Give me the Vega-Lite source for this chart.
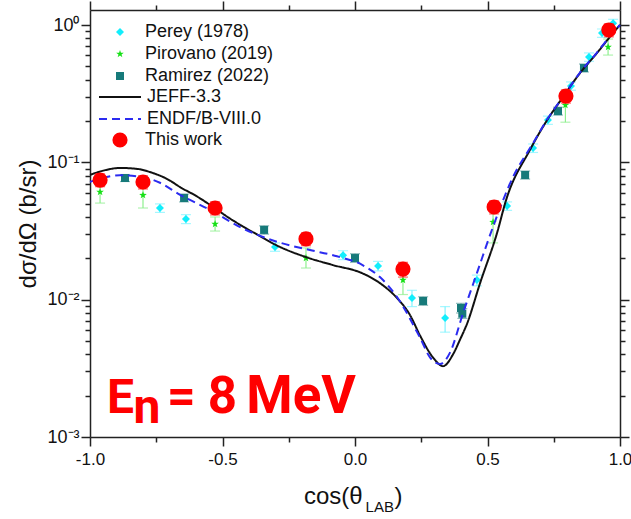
{
  "$schema": "https://vega.github.io/schema/vega-lite/v6.json",
  "width": 530,
  "height": 427,
  "autosize": "none",
  "padding": {"left": 90, "top": 10, "right": 11, "bottom": 82},
  "background": "white",
  "datasets": {
    "exp": [
      {"series": "Perey (1978)", "x": -0.736, "y": 0.0465, "lo": 0.0432, "hi": 0.0498},
      {"series": "Perey (1978)", "x": -0.638, "y": 0.0387, "lo": 0.0358, "hi": 0.0416},
      {"series": "Perey (1978)", "x": -0.302, "y": 0.0242, "lo": 0.0225, "hi": 0.0259},
      {"series": "Perey (1978)", "x": -0.045, "y": 0.0211, "lo": 0.0196, "hi": 0.0227},
      {"series": "Perey (1978)", "x": 0.087, "y": 0.0176, "lo": 0.0162, "hi": 0.019},
      {"series": "Perey (1978)", "x": 0.215, "y": 0.0103, "lo": 0.0089, "hi": 0.0117},
      {"series": "Perey (1978)", "x": 0.34, "y": 0.00735, "lo": 0.0058, "hi": 0.0089},
      {"series": "Perey (1978)", "x": 0.46, "y": 0.0139, "lo": 0.0126, "hi": 0.0151},
      {"series": "Perey (1978)", "x": 0.574, "y": 0.0481, "lo": 0.0447, "hi": 0.0515},
      {"series": "Perey (1978)", "x": 0.672, "y": 0.127, "lo": 0.118, "hi": 0.136},
      {"series": "Perey (1978)", "x": 0.728, "y": 0.203, "lo": 0.189, "hi": 0.217},
      {"series": "Perey (1978)", "x": 0.815, "y": 0.36, "lo": 0.335, "hi": 0.385},
      {"series": "Perey (1978)", "x": 0.883, "y": 0.585, "lo": 0.544, "hi": 0.626},
      {"series": "Perey (1978)", "x": 0.932, "y": 0.874, "lo": 0.813, "hi": 0.935},
      {"series": "Perey (1978)", "x": 0.974, "y": 1.03, "lo": 0.958, "hi": 1.1},
      {"series": "Pirovano (2019)", "x": -0.962, "y": 0.0608, "lo": 0.0505, "hi": 0.07},
      {"series": "Pirovano (2019)", "x": -0.8, "y": 0.0577, "lo": 0.0465, "hi": 0.068},
      {"series": "Pirovano (2019)", "x": -0.528, "y": 0.0355, "lo": 0.0316, "hi": 0.04},
      {"series": "Pirovano (2019)", "x": -0.185, "y": 0.0201, "lo": 0.017, "hi": 0.0238},
      {"series": "Pirovano (2019)", "x": 0.181, "y": 0.0139, "lo": 0.0109, "hi": 0.0166},
      {"series": "Pirovano (2019)", "x": 0.521, "y": 0.0367, "lo": 0.0259, "hi": 0.045},
      {"series": "Pirovano (2019)", "x": 0.794, "y": 0.261, "lo": 0.196, "hi": 0.32},
      {"series": "Pirovano (2019)", "x": 0.955, "y": 0.691, "lo": 0.604, "hi": 0.79},
      {"series": "Ramirez (2022)", "x": -0.868, "y": 0.0769, "lo": 0.0725, "hi": 0.0815},
      {"series": "Ramirez (2022)", "x": -0.645, "y": 0.055, "lo": 0.0515, "hi": 0.0588},
      {"series": "Ramirez (2022)", "x": -0.343, "y": 0.0322, "lo": 0.03, "hi": 0.0345},
      {"series": "Ramirez (2022)", "x": 0.0, "y": 0.0201, "lo": 0.0187, "hi": 0.0216},
      {"series": "Ramirez (2022)", "x": 0.257, "y": 0.00978, "lo": 0.0091, "hi": 0.0105},
      {"series": "Ramirez (2022)", "x": 0.4, "y": 0.0087, "lo": 0.008, "hi": 0.0094},
      {"series": "Ramirez (2022)", "x": 0.405, "y": 0.0079, "lo": 0.0073, "hi": 0.0086},
      {"series": "Ramirez (2022)", "x": 0.642, "y": 0.0809, "lo": 0.0755, "hi": 0.0865},
      {"series": "Ramirez (2022)", "x": 0.766, "y": 0.236, "lo": 0.221, "hi": 0.252},
      {"series": "Ramirez (2022)", "x": 0.864, "y": 0.486, "lo": 0.455, "hi": 0.52}
    ],
    "models": [
      {"model": "JEFF-3.3", "x": -1.0, "y": 0.081},
      {"model": "JEFF-3.3", "x": -0.95, "y": 0.087},
      {"model": "JEFF-3.3", "x": -0.887, "y": 0.091},
      {"model": "JEFF-3.3", "x": -0.82, "y": 0.0895},
      {"model": "JEFF-3.3", "x": -0.774, "y": 0.085},
      {"model": "JEFF-3.3", "x": -0.7, "y": 0.074},
      {"model": "JEFF-3.3", "x": -0.66, "y": 0.066},
      {"model": "JEFF-3.3", "x": -0.6, "y": 0.057},
      {"model": "JEFF-3.3", "x": -0.547, "y": 0.049},
      {"model": "JEFF-3.3", "x": -0.472, "y": 0.039},
      {"model": "JEFF-3.3", "x": -0.385, "y": 0.031},
      {"model": "JEFF-3.3", "x": -0.283, "y": 0.0242},
      {"model": "JEFF-3.3", "x": -0.181, "y": 0.0203},
      {"model": "JEFF-3.3", "x": -0.085, "y": 0.0179},
      {"model": "JEFF-3.3", "x": 0.03, "y": 0.0155},
      {"model": "JEFF-3.3", "x": 0.094, "y": 0.0132},
      {"model": "JEFF-3.3", "x": 0.158, "y": 0.0103},
      {"model": "JEFF-3.3", "x": 0.208, "y": 0.0077},
      {"model": "JEFF-3.3", "x": 0.245, "y": 0.0055},
      {"model": "JEFF-3.3", "x": 0.294, "y": 0.0038},
      {"model": "JEFF-3.3", "x": 0.332, "y": 0.00328},
      {"model": "JEFF-3.3", "x": 0.37, "y": 0.004},
      {"model": "JEFF-3.3", "x": 0.396, "y": 0.0051},
      {"model": "JEFF-3.3", "x": 0.423, "y": 0.0067},
      {"model": "JEFF-3.3", "x": 0.472, "y": 0.0132},
      {"model": "JEFF-3.3", "x": 0.536, "y": 0.0306},
      {"model": "JEFF-3.3", "x": 0.57, "y": 0.053},
      {"model": "JEFF-3.3", "x": 0.66, "y": 0.123},
      {"model": "JEFF-3.3", "x": 0.725, "y": 0.203},
      {"model": "JEFF-3.3", "x": 0.785, "y": 0.299},
      {"model": "JEFF-3.3", "x": 0.849, "y": 0.447},
      {"model": "JEFF-3.3", "x": 0.913, "y": 0.625},
      {"model": "JEFF-3.3", "x": 0.974, "y": 0.875},
      {"model": "JEFF-3.3", "x": 1.0, "y": 1.0},
      {"model": "ENDF/B-VIII.0", "x": -1.0, "y": 0.072},
      {"model": "ENDF/B-VIII.0", "x": -0.962, "y": 0.076},
      {"model": "ENDF/B-VIII.0", "x": -0.887, "y": 0.0805},
      {"model": "ENDF/B-VIII.0", "x": -0.8, "y": 0.078},
      {"model": "ENDF/B-VIII.0", "x": -0.736, "y": 0.071},
      {"model": "ENDF/B-VIII.0", "x": -0.66, "y": 0.058},
      {"model": "ENDF/B-VIII.0", "x": -0.547, "y": 0.045},
      {"model": "ENDF/B-VIII.0", "x": -0.423, "y": 0.033},
      {"model": "ENDF/B-VIII.0", "x": -0.283, "y": 0.026},
      {"model": "ENDF/B-VIII.0", "x": -0.17, "y": 0.023},
      {"model": "ENDF/B-VIII.0", "x": -0.068, "y": 0.0207},
      {"model": "ENDF/B-VIII.0", "x": 0.03, "y": 0.0178},
      {"model": "ENDF/B-VIII.0", "x": 0.094, "y": 0.0146},
      {"model": "ENDF/B-VIII.0", "x": 0.158, "y": 0.0105},
      {"model": "ENDF/B-VIII.0", "x": 0.245, "y": 0.0053},
      {"model": "ENDF/B-VIII.0", "x": 0.283, "y": 0.0038},
      {"model": "ENDF/B-VIII.0", "x": 0.321, "y": 0.0034},
      {"model": "ENDF/B-VIII.0", "x": 0.358, "y": 0.0041},
      {"model": "ENDF/B-VIII.0", "x": 0.408, "y": 0.008},
      {"model": "ENDF/B-VIII.0", "x": 0.46, "y": 0.0156},
      {"model": "ENDF/B-VIII.0", "x": 0.521, "y": 0.034},
      {"model": "ENDF/B-VIII.0", "x": 0.596, "y": 0.078},
      {"model": "ENDF/B-VIII.0", "x": 0.672, "y": 0.138},
      {"model": "ENDF/B-VIII.0", "x": 0.725, "y": 0.205},
      {"model": "ENDF/B-VIII.0", "x": 0.785, "y": 0.3},
      {"model": "ENDF/B-VIII.0", "x": 0.849, "y": 0.45},
      {"model": "ENDF/B-VIII.0", "x": 0.913, "y": 0.63},
      {"model": "ENDF/B-VIII.0", "x": 0.974, "y": 0.88},
      {"model": "ENDF/B-VIII.0", "x": 1.0, "y": 1.0}
    ],
    "thiswork": [
      {"series": "This work", "x": -0.962, "y": 0.0743, "lo": 0.0665, "hi": 0.0825},
      {"series": "This work", "x": -0.8, "y": 0.0719, "lo": 0.064, "hi": 0.0798},
      {"series": "This work", "x": -0.528, "y": 0.0465, "lo": 0.0414, "hi": 0.0516},
      {"series": "This work", "x": -0.185, "y": 0.0277, "lo": 0.0247, "hi": 0.0307},
      {"series": "This work", "x": 0.181, "y": 0.0167, "lo": 0.0146, "hi": 0.0187},
      {"series": "This work", "x": 0.525, "y": 0.0473, "lo": 0.0421, "hi": 0.0525},
      {"series": "This work", "x": 0.796, "y": 0.304, "lo": 0.27, "hi": 0.337},
      {"series": "This work", "x": 0.958, "y": 0.92, "lo": 0.82, "hi": 1.02}
    ]
  },
  "layer": [
    {
      "data": {"name": "exp"},
      "mark": {"type": "errorbar", "ticks": {"size": 10}, "thickness": 1.2},
      "encoding": {
        "x": {
          "field": "x", "type": "quantitative",
          "scale": {"domain": [-1, 1], "nice": false, "zero": false},
          "axis": {
            "orient": "bottom", "title": null,
            "values": [-1, -0.75, -0.5, -0.25, 0, 0.25, 0.5, 0.75, 1],
            "tickSize": {"condition": {"test": "abs(datum.value*2-round(datum.value*2))<0.001", "value": 9}, "value": 5},
            "labelExpr": "abs(datum.value*2-round(datum.value*2))<0.001 ? replace(format(datum.value,'.1f'),'\u2212','-') : ''",
            "labelPadding": 5
          }
        },
        "y": {
          "field": "lo", "type": "quantitative",
          "scale": {"type": "log", "domain": [0.001, 1.286], "nice": false},
          "axis": {
            "orient": "left",
            "title": "dσ/dΩ (b/sr)",
            "titleFontSize": 24,
            "titlePadding": 6,
            "values": [0.001, 0.002, 0.003, 0.004, 0.005, 0.006, 0.007, 0.008, 0.009, 0.01, 0.02, 0.03, 0.04, 0.05, 0.06, 0.07, 0.08, 0.09, 0.1, 0.2, 0.3, 0.4, 0.5, 0.6, 0.7, 0.8, 0.9, 1],
            "tickSize": {"condition": {"test": "abs(log(datum.value)/LN10-round(log(datum.value)/LN10))<0.001", "value": 9}, "value": 5},
            "labelExpr": "abs(log(datum.value)/LN10-round(log(datum.value)/LN10))<0.001 ? ('10' + (datum.value > 0.5 ? '⁰' : (datum.value > 0.05 ? '⁻¹' : (datum.value > 0.005 ? '⁻²' : '⁻³')))) : ''",
            "labelFontSize": 18,
            "labelPadding": 2
          }
        },
        "y2": {"field": "hi"},
        "color": {
          "field": "series", "type": "nominal",
          "scale": {"domain": ["Perey (1978)", "Pirovano (2019)", "Ramirez (2022)"], "range": ["#7ff3ff", "#8ef08e", "#5f9f9f"]},
          "legend": null
        }
      }
    },
    {
      "data": {"name": "exp"},
      "mark": {"type": "point", "filled": true, "opacity": 1},
      "encoding": {
        "x": {
          "field": "x", "type": "quantitative",
          "axis": {
            "orient": "top", "title": null, "labels": false,
            "values": [-1, -0.75, -0.5, -0.25, 0, 0.25, 0.5, 0.75, 1],
            "tickSize": {"condition": {"test": "abs(datum.value*2-round(datum.value*2))<0.001", "value": 9}, "value": 5}
          }
        },
        "y": {
          "field": "y", "type": "quantitative",
          "axis": {
            "orient": "right", "title": null, "labels": false,
            "values": [0.001, 0.002, 0.003, 0.004, 0.005, 0.006, 0.007, 0.008, 0.009, 0.01, 0.02, 0.03, 0.04, 0.05, 0.06, 0.07, 0.08, 0.09, 0.1, 0.2, 0.3, 0.4, 0.5, 0.6, 0.7, 0.8, 0.9, 1],
            "tickSize": {"condition": {"test": "abs(log(datum.value)/LN10-round(log(datum.value)/LN10))<0.001", "value": 9}, "value": 5}
          }
        },
        "color": {
          "field": "series", "type": "nominal",
          "scale": {"domain": ["Perey (1978)", "Pirovano (2019)", "Ramirez (2022)"], "range": ["#12eefc", "#16e016", "#177a7a"]},
          "legend": {"title": null, "orient": "none", "legendX": 21, "legendY": 13, "labelOffset": 16, "rowPadding": 4}
        },
        "shape": {
          "field": "series", "type": "nominal",
          "scale": {"domain": ["Perey (1978)", "Pirovano (2019)", "Ramirez (2022)"], "range": ["diamond", "M0,-1L0.235,-0.324L0.951,-0.309L0.38,0.124L0.588,0.809L0,0.4L-0.588,0.809L-0.38,0.124L-0.951,-0.309L-0.235,-0.324Z", "square"]},
          "legend": {"title": null, "orient": "none", "legendX": 21, "legendY": 13, "labelOffset": 16, "rowPadding": 4}
        },
        "size": {
          "field": "series", "type": "nominal",
          "scale": {"domain": ["Perey (1978)", "Pirovano (2019)", "Ramirez (2022)"], "range": [64, 64, 36]},
          "legend": {"title": null, "orient": "none", "legendX": 21, "legendY": 13, "labelOffset": 16, "rowPadding": 4}
        }
      }
    },
    {
      "data": {"name": "models"},
      "mark": {"type": "line", "strokeWidth": 2, "interpolate": "monotone"},
      "encoding": {
        "x": {"field": "x", "type": "quantitative", "axis": null},
        "y": {"field": "y", "type": "quantitative", "axis": null},
        "color": {
          "field": "model", "type": "nominal",
          "scale": {"domain": ["JEFF-3.3", "ENDF/B-VIII.0"], "range": ["#111111", "#2b2bf0"]},
          "legend": {"title": null, "orient": "none", "legendX": 21, "legendY": 78, "labelOffset": 18, "rowPadding": 4, "symbolType": "M-3,0L3,0", "symbolSize": 196, "symbolStrokeWidth": 2}
        },
        "strokeDash": {
          "field": "model", "type": "nominal",
          "scale": {"domain": ["JEFF-3.3", "ENDF/B-VIII.0"], "range": [[1, 0], [8, 5]]},
          "legend": {"title": null, "orient": "none", "legendX": 21, "legendY": 78, "labelOffset": 18, "rowPadding": 4, "symbolType": "M-3,0L3,0", "symbolSize": 196, "symbolStrokeWidth": 2}
        }
      }
    },
    {
      "data": {"name": "thiswork"},
      "mark": {"type": "errorbar", "ticks": {"size": 10}, "thickness": 1.2, "color": "#ff2020"},
      "encoding": {
        "x": {"field": "x", "type": "quantitative", "axis": null},
        "y": {"field": "lo", "type": "quantitative", "axis": null},
        "y2": {"field": "hi"}
      }
    },
    {
      "data": {"name": "thiswork"},
      "mark": {"type": "point", "shape": "circle", "filled": true, "opacity": 1, "size": 230},
      "encoding": {
        "x": {"field": "x", "type": "quantitative", "axis": null},
        "y": {"field": "y", "type": "quantitative", "axis": null},
        "color": {
          "field": "series", "type": "nominal",
          "scale": {"domain": ["This work"], "range": ["#ff0000"]},
          "legend": {"title": null, "orient": "none", "legendX": 21, "legendY": 121, "labelOffset": 16, "symbolSize": 230}
        }
      }
    },
    {
      "data": {"values": [{}]},
      "mark": {"type": "text", "text": "E", "align": "left", "baseline": "alphabetic", "font": "Roboto", "fontWeight": "bold", "fontSize": 48, "color": "#ff0000"},
      "encoding": {
        "x": {"datum": -0.936, "type": "quantitative", "axis": null},
        "y": {"datum": 0.0015, "type": "quantitative", "axis": null}
      }
    },
    {
      "data": {"values": [{}]},
      "mark": {"type": "text", "text": "n", "align": "left", "baseline": "alphabetic", "font": "Roboto", "fontWeight": "bold", "fontSize": 48, "color": "#ff0000"},
      "encoding": {
        "x": {"datum": -0.836, "type": "quantitative", "axis": null},
        "y": {"datum": 0.00126, "type": "quantitative", "axis": null}
      }
    },
    {
      "data": {"values": [{}]},
      "mark": {"type": "text", "text": "=", "align": "left", "baseline": "alphabetic", "font": "Roboto", "fontWeight": "bold", "fontSize": 50, "color": "#ff0000"},
      "encoding": {
        "x": {"datum": -0.709, "type": "quantitative", "axis": null},
        "y": {"datum": 0.0015, "type": "quantitative", "axis": null}
      }
    },
    {
      "data": {"values": [{}]},
      "mark": {"type": "text", "text": "8", "align": "left", "baseline": "alphabetic", "font": "Roboto", "fontWeight": "bold", "fontSize": 51, "color": "#ff0000"},
      "encoding": {
        "x": {"datum": -0.556, "type": "quantitative", "axis": null},
        "y": {"datum": 0.0015, "type": "quantitative", "axis": null}
      }
    },
    {
      "data": {"values": [{}]},
      "mark": {"type": "text", "text": "MeV", "align": "left", "baseline": "alphabetic", "font": "Roboto", "fontWeight": "bold", "fontSize": 53, "color": "#ff0000"},
      "encoding": {
        "x": {"datum": -0.41, "type": "quantitative", "axis": null},
        "y": {"datum": 0.0015, "type": "quantitative", "axis": null}
      }
    },
    {
      "data": {"values": [{}]},
      "mark": {"type": "text", "text": "cos(θ", "align": "left", "baseline": "alphabetic", "font": "Liberation Sans", "fontSize": 24, "color": "#111111"},
      "encoding": {
        "x": {"datum": -0.1925, "type": "quantitative", "axis": null},
        "y": {"datum": 0.000325, "type": "quantitative", "axis": null}
      }
    },
    {
      "data": {"values": [{}]},
      "mark": {"type": "text", "text": "LAB", "align": "left", "baseline": "alphabetic", "font": "Liberation Sans", "fontSize": 15, "color": "#111111"},
      "encoding": {
        "x": {"datum": 0.04, "type": "quantitative", "axis": null},
        "y": {"datum": 0.000285, "type": "quantitative", "axis": null}
      }
    },
    {
      "data": {"values": [{}]},
      "mark": {"type": "text", "text": ")", "align": "left", "baseline": "alphabetic", "font": "Liberation Sans", "fontSize": 24, "color": "#111111"},
      "encoding": {
        "x": {"datum": 0.149, "type": "quantitative", "axis": null},
        "y": {"datum": 0.000325, "type": "quantitative", "axis": null}
      }
    }
  ],
  "resolve": {
    "scale": {"color": "independent", "shape": "independent", "size": "independent", "strokeDash": "independent"},
    "axis": {"x": "independent", "y": "independent"}
  },
  "config": {
    "view": {"stroke": null},
    "axis": {
      "grid": false,
      "domainColor": "#222222", "domainWidth": 1.5,
      "tickColor": "#222222", "tickWidth": 1.5,
      "labelFont": "Liberation Sans", "labelFontSize": 17, "labelColor": "#111111",
      "titleFont": "Liberation Sans", "titleFontWeight": "normal", "titleColor": "#111111",
      "labelFlush": false, "labelOverlap": false
    },
    "legend": {"labelFont": "Liberation Sans", "labelFontSize": 18, "labelColor": "#111111"}
  }
}
